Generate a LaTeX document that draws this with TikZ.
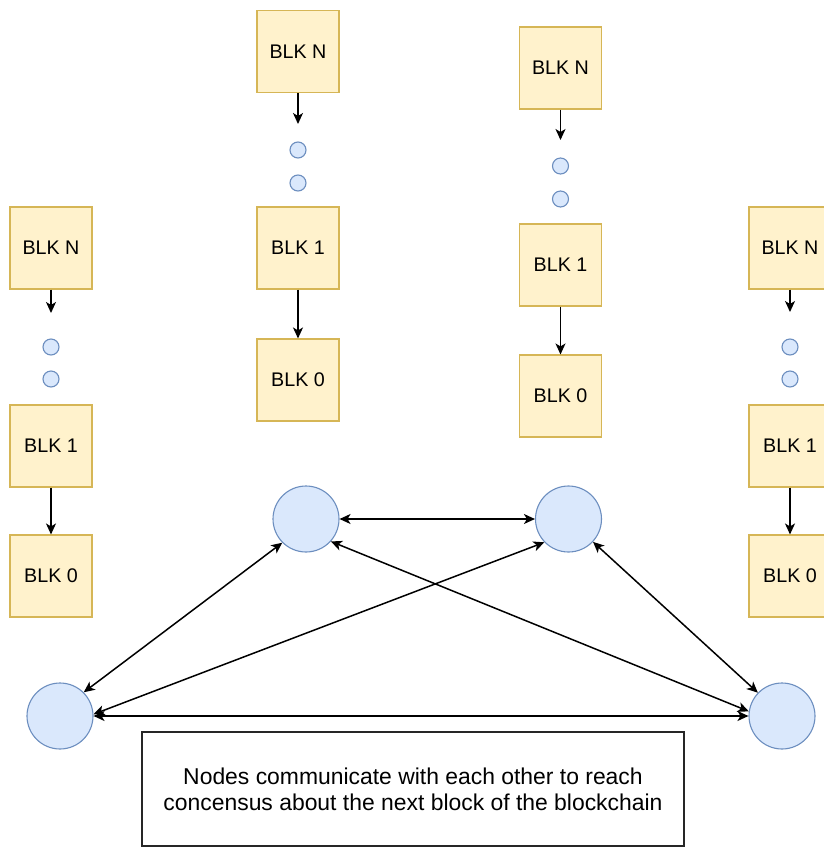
\documentclass[tikz,border=0pt]{standalone}
\usepackage{fontspec}
\setmainfont{Liberation Sans}
\usetikzlibrary{arrows.meta}
\definecolor{blkfill}{HTML}{FFF2CC}
\definecolor{blkline}{HTML}{D6B656}
\definecolor{peerfill}{HTML}{DAE8FC}
\definecolor{peerline}{HTML}{6C8EBF}
\tikzset{
  blkbox/.style={draw=blkline, fill=blkfill, line width=1.1pt,
    minimum width=82pt, minimum height=82pt, inner sep=0pt,
    font=\fontsize{19.7}{23}\selectfont},
  gapdot/.style={circle, draw=peerline, fill=peerfill, line width=1.1pt,
    minimum size=16pt, inner sep=0pt},
  peer/.style={circle, draw=peerline, fill=peerfill, line width=1.1pt,
    minimum size=66pt, inner sep=0pt},
  chainarrow/.style={line width=1.5pt, -{Stealth[length=11pt, width=10pt, inset=3pt]}},
  link/.style={line width=1.5pt, {Stealth[length=11pt, width=10pt, inset=3pt]}-{Stealth[length=11pt, width=10pt, inset=3pt]}},
  notebox/.style={draw=black!85, line width=1.1pt, minimum width=542pt,
    minimum height=114pt, align=center, inner sep=0pt,
    font=\fontsize{22.9}{26}\selectfont}
}
\begin{document}
\begin{tikzpicture}[x=1pt, y=-1pt]
\useasboundingbox (0,0) rectangle (824,847);
\clip (0,0) rectangle (824,847);

% chain of the left peer
\node[blkbox] (aN) at (51,248) {BLK N};
\coordinate (aT) at (51,313);
\node[gapdot] (ad1) at (51,347) {};
\node[gapdot] (ad2) at (51,379) {};
\node[blkbox] (a1) at (51,446) {BLK 1};
\node[blkbox] (a0) at (51,576) {BLK 0};
\draw[chainarrow] (aN) -- (aT);
\draw[chainarrow] (a1) -- (a0);

% chain of the second peer
\node[blkbox] (bN) at (298,51.5) {BLK N};
\coordinate (bT) at (298,124);
\node[gapdot] (bd1) at (298,150) {};
\node[gapdot] (bd2) at (298,183) {};
\node[blkbox] (b1) at (298,248) {BLK 1};
\node[blkbox] (b0) at (298,380) {BLK 0};
\draw[chainarrow] (bN) -- (bT);
\draw[chainarrow] (b1) -- (b0);

% chain of the third peer
\node[blkbox] (cN) at (560.5,68) {BLK N};
\coordinate (cT) at (560.5,140);
\node[gapdot] (cd1) at (560.5,166) {};
\node[gapdot] (cd2) at (560.5,199) {};
\node[blkbox] (c1) at (560.5,265) {BLK 1};
\node[blkbox] (c0) at (560.5,396) {BLK 0};
\draw[chainarrow] (cN) -- (cT);
\draw[chainarrow] (c1) -- (c0);

% chain of the right peer
\node[blkbox] (dN) at (790,248) {BLK N};
\coordinate (dT) at (790,312);
\node[gapdot] (dd1) at (790,347) {};
\node[gapdot] (dd2) at (790,379) {};
\node[blkbox] (d1) at (790,446) {BLK 1};
\node[blkbox] (d0) at (790,576) {BLK 0};
\draw[chainarrow] (dN) -- (dT);
\draw[chainarrow] (d1) -- (d0);

% peers of the network
\node[peer] (tl) at (306,519) {};
\node[peer] (tr) at (568.5,519) {};
\node[peer] (bl) at (60,716) {};
\node[peer] (br) at (782,716) {};

% links between peers
\draw[link] (tl.east) -- (tr.west);
\draw[link] (tl.225) -- (bl.45);
\draw[link] (tl.-42) -- (br.172);
\draw[link] (tr.224) -- (bl.3);
\draw[link] (tr.-43) -- (br.136);
\draw[link] (bl.east) -- (br.west);

% caption
\node[notebox] (note) at (413,789) {Nodes communicate with each other to reach\\concensus about the next block of the blockchain};
\end{tikzpicture}
\end{document}
